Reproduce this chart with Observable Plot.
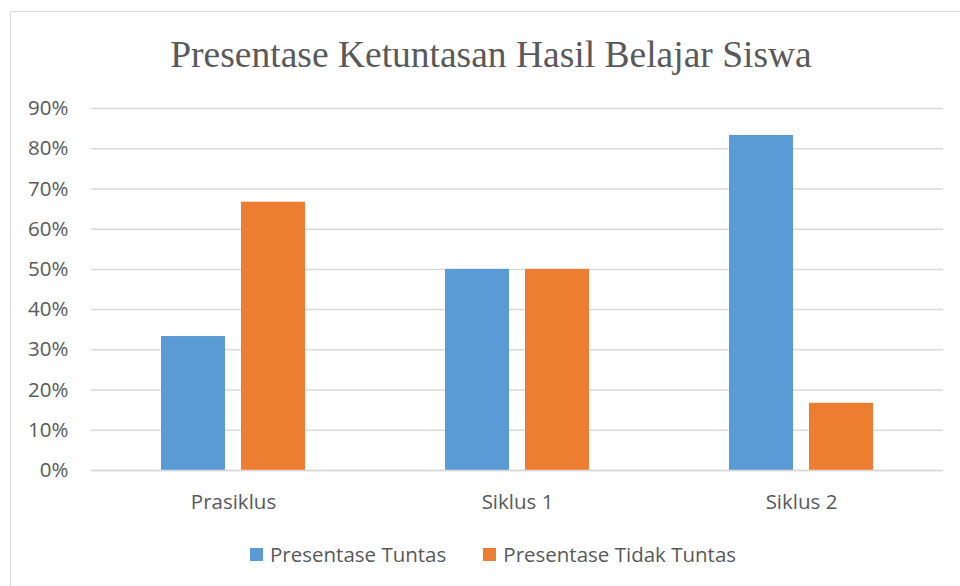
<!DOCTYPE html>
<html>
<head>
<meta charset="utf-8">
<script src="https://cdn.jsdelivr.net/npm/d3@7"></script>
<script src="https://cdn.jsdelivr.net/npm/@observablehq/plot@0.6"></script>
<style>
  html, body { margin: 0; padding: 0; background: #fff; width: 960px; height: 586px; overflow: hidden; }
  #frame { position: absolute; left: 10px; top: 11px; width: 1000px; height: 640px; border: 1px solid #d9d9d9; box-sizing: border-box; }
  #title { position: absolute; left: 0; top: 30px; width: 982px; text-align: center; font-family: "Liberation Serif", "Times New Roman", serif; font-size: 37.5px; color: #595959; line-height: 50px; white-space: nowrap; }
  #chart { position: absolute; left: 0; top: 88px; }
  #legend { position: absolute; left: 250px; top: 541px; display: flex; align-items: center; font-family: "Open Sans", sans-serif; font-size: 20.5px; color: #595959; white-space: nowrap; line-height: 26px; }
  .sw { display: inline-block; width: 13px; height: 13px; margin-right: 7px; }
  .item { display: flex; align-items: center; margin-right: 37px; }
</style>
</head>
<body>
<div id="frame"></div>
<div id="title">Presentase Ketuntasan Hasil Belajar Siswa</div>
<div id="chart"></div>
<div id="legend"></div>
<script>
const categories = ["Prasiklus", "Siklus 1", "Siklus 2"];
const seriesNames = ["Presentase Tuntas", "Presentase Tidak Tuntas"];
const tuntas = [0.333, 0.50, 0.833];
const tidakTuntas = [0.667, 0.50, 0.167];
const yTicks = [0, 0.1, 0.2, 0.3, 0.4, 0.5, 0.6, 0.7, 0.8, 0.9];
const colors = ["#5B9BD5", "#ED7D31"];

const tuntasData = categories.map((c, i) => ({category: c, value: tuntas[i]}));
const tidakData = categories.map((c, i) => ({category: c, value: tidakTuntas[i]}));

const chart = Plot.plot({
  width: 960,
  height: 440,
  marginTop: 20,
  marginBottom: 58,
  marginLeft: 91,
  marginRight: 17,
  style: {fontFamily: "'Open Sans', sans-serif", fontSize: "20.5px", color: "#595959", background: "transparent", overflow: "visible"},
  x: {domain: categories, padding: 0, label: null, tickSize: 0, tickPadding: 24},
  y: {domain: [0, 0.9], ticks: yTicks, tickFormat: d3.format(".0%"), label: null, tickSize: 0, tickPadding: 23},
  marks: [
    Plot.ruleY(yTicks, {stroke: "#d9d9d9", strokeWidth: 1.5}),
    Plot.barY(tuntasData, {x: "category", y: "value", fill: colors[0], insetLeft: 70, insetRight: 150}),
    Plot.barY(tidakData, {x: "category", y: "value", fill: colors[1], insetLeft: 150, insetRight: 70}),
    Plot.ruleY([0], {stroke: "#d9d9d9", strokeWidth: 1.5})
  ]
});
document.getElementById("chart").appendChild(chart);

const legend = document.getElementById("legend");
seriesNames.forEach((name, i) => {
  const item = document.createElement("span");
  item.className = "item";
  const sw = document.createElement("span");
  sw.className = "sw";
  sw.style.background = colors[i];
  item.appendChild(sw);
  item.appendChild(document.createTextNode(name));
  legend.appendChild(item);
});
</script>
</body>
</html>
